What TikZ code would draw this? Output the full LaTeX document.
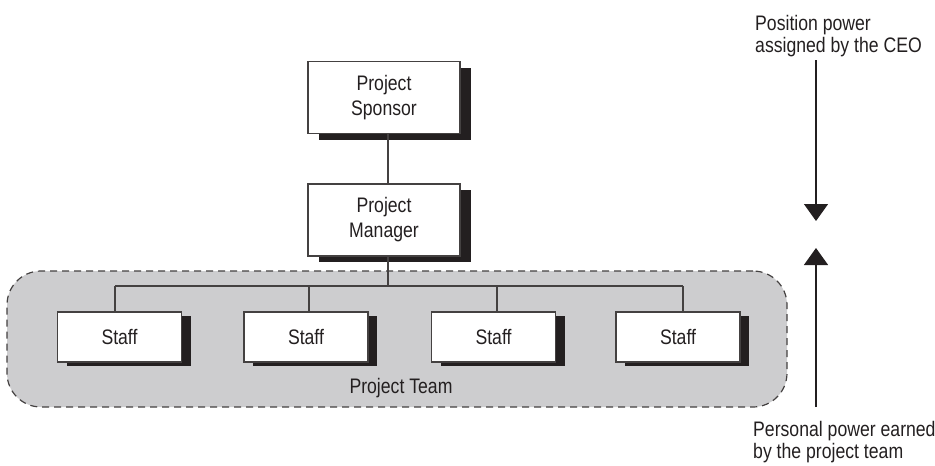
\documentclass[tikz,border=0pt]{standalone}
\usepackage{fontspec}
\setmainfont[FakeStretch=0.84]{Liberation Sans}
\usetikzlibrary{shadows,arrows.meta}
\definecolor{teamgray}{HTML}{CDCDCF}
\definecolor{inkline}{HTML}{231F20}
\begin{document}
\begin{tikzpicture}[x=1pt,y=-1pt,
  every node/.style={font=\fontsize{21}{25}\selectfont, text=inkline},
  bigbox/.style={draw=inkline!85, line width=1.2pt, fill=white, minimum width=152pt,
    minimum height=72pt, align=center, inner sep=0pt,
    drop shadow={shadow xshift=11pt, shadow yshift=-6pt, fill=inkline, opacity=1}},
  staffbox/.style={draw=inkline!85, line width=1.2pt, fill=white, minimum width=124pt,
    minimum height=50pt, inner sep=0pt,
    drop shadow={shadow xshift=9pt, shadow yshift=-4pt, fill=inkline, opacity=1}},
  teambox/.style={draw=inkline!85, fill=teamgray, line width=1.2pt,
    dash pattern=on 7pt off 5pt, rounded corners=34pt, minimum width=780pt,
    minimum height=136pt, inner sep=0pt},
  link/.style={draw=inkline!85, line width=1.2pt},
  note/.style={font=\fontsize{21}{22}\selectfont, align=left, inner sep=0pt},
  power/.style={draw=inkline, line width=1.2pt, -{Triangle[width=24pt,length=17pt]}}
]
\useasboundingbox (0,0) rectangle (935,466);

% team area
\node[teambox] (team) at (397,339) {};
\node[anchor=base, inner sep=0pt] (teamlabel) at (401,393) {Project Team};

% hierarchy boxes
\node[bigbox] (spon) at (384,97.5) {Project\\Sponsor};
\node[bigbox] (mgr) at (384,220) {Project\\Manager};
\node[staffbox] (s1) at (119.5,337) {Staff};
\node[staffbox] (s2) at (306,337) {Staff};
\node[staffbox] (s3) at (493.5,337) {Staff};
\node[staffbox] (s4) at (678,337) {Staff};

% bus points
\coordinate (bt) at (388,286);
\coordinate (b1) at (115,286);
\coordinate (b2) at (309,286);
\coordinate (b3) at (497,286);
\coordinate (b4) at (683,286);

\draw[link] (spon.south -| bt) -- (mgr.north -| bt);
\draw[link] (mgr.south -| bt) -- (bt);
\draw[link] (b1) -- (b4);
\draw[link] (b1) -- (b1 |- s1.north);
\draw[link] (b2) -- (b2 |- s2.north);
\draw[link] (b3) -- (b3 |- s3.north);
\draw[link] (b4) -- (b4 |- s4.north);

% power arrows
\coordinate (dtop) at (816,60);
\coordinate (dtip) at (816,221);
\coordinate (ubot) at (816,407);
\coordinate (utip) at (816,248);
\draw[power] (dtop) -- (dtip);
\draw[power] (ubot) -- (utip);

% the base anchor of a two-line note sits on its last line
\node[note, anchor=base west] (pos) at (755,52) {Position power\\assigned by the CEO};
\node[note, anchor=base west] (pers) at (753,458) {Personal power earned\\by the project team};
\end{tikzpicture}
\end{document}
